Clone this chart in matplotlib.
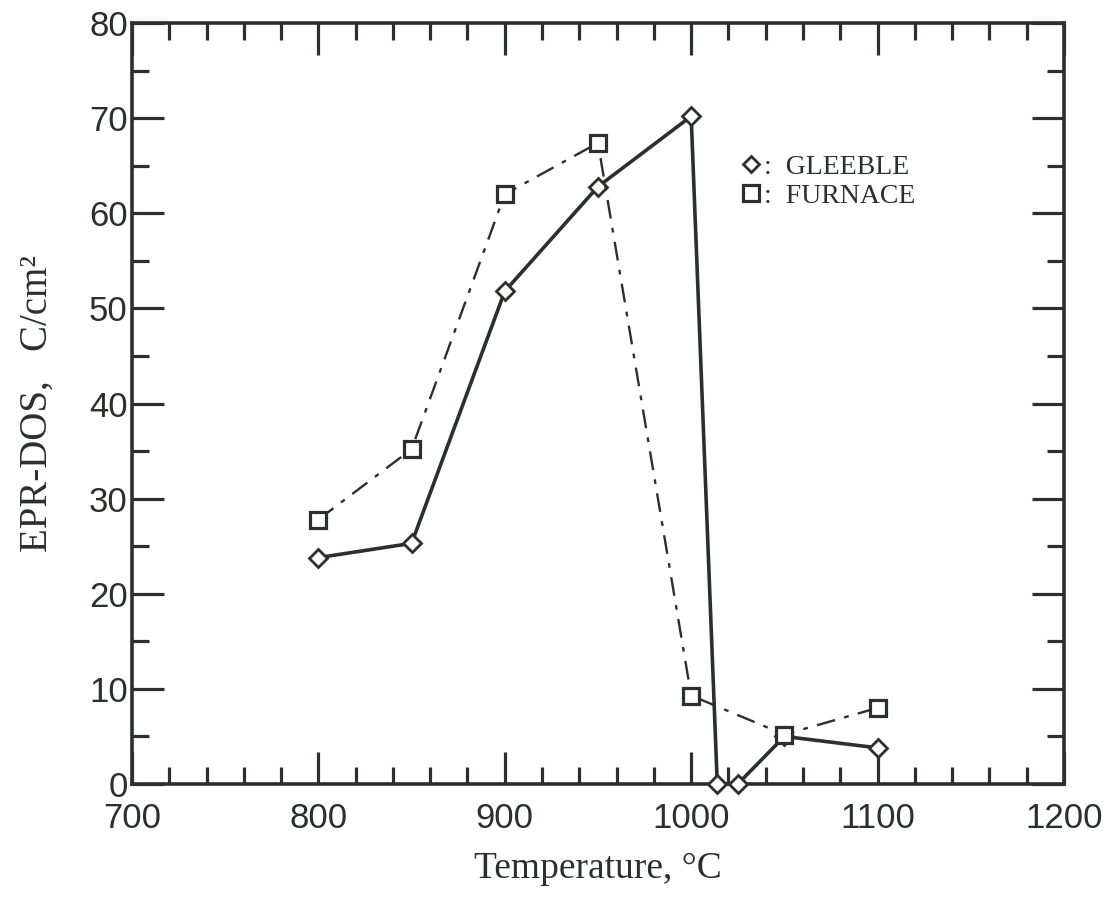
import matplotlib
matplotlib.use("Agg")
import matplotlib.pyplot as plt
from matplotlib.lines import Line2D
from matplotlib.ticker import MultipleLocator

INK = "#2b302c"

# data
gleeble_T = [800, 850, 900, 950, 1000, 1014, 1025, 1050, 1100]
gleeble_dos = [23.8, 25.3, 51.8, 62.8, 70.2, 0.0, 0.0, 5.0, 3.8]
furnace_T = [800, 850, 900, 950, 1000, 1050, 1100]
furnace_dos = [27.8, 35.2, 62.0, 67.4, 9.3, 5.2, 8.0]

fig = plt.figure(figsize=(11.09, 9.07), dpi=100)
ax = fig.add_axes([0.119, 0.1356, 0.8404, 0.839])

ax.plot(gleeble_T, gleeble_dos, color=INK, lw=2.6, marker="D", ms=9,
        mfc="white", mec=INK, mew=2.0, clip_on=False, zorder=3)
ax.plot(furnace_T, furnace_dos, color=INK, lw=1.7, dashes=(8, 4, 2, 4),
        marker="s", ms=12, mfc="white", mec=INK, mew=2.3, clip_on=False, zorder=4)

ax.set_xlim(700, 1200)
ax.set_ylim(0, 80)
ax.xaxis.set_major_locator(MultipleLocator(100))
ax.xaxis.set_minor_locator(MultipleLocator(20))
ax.yaxis.set_major_locator(MultipleLocator(10))
ax.yaxis.set_minor_locator(MultipleLocator(5))
ax.tick_params(which="both", direction="in", top=True, right=True,
               color=INK, width=2.3)
ax.tick_params(which="major", length=23, labelsize=25, labelcolor=INK)
ax.tick_params(which="minor", length=12)
ax.tick_params(axis="x", which="major", pad=13)
ax.tick_params(axis="y", which="major", pad=3)
for lab in ax.get_xticklabels() + ax.get_yticklabels():
    lab.set_family("Liberation Sans")
for s in ax.spines.values():
    s.set_linewidth(2.6)
    s.set_color(INK)

ax.set_xlabel("Temperature, \u00b0C", family="Liberation Serif", fontsize=27,
              color=INK, labelpad=12)
ax.set_ylabel("EPR-DOS,   C/cm\u00b2", family="Liberation Serif", fontsize=28,
              color=INK, labelpad=24)

handles = [
    Line2D([], [], ls="none", marker="D", ms=8, mfc="white", mec=INK, mew=2.0),
    Line2D([], [], ls="none", marker="s", ms=11, mfc="white", mec=INK, mew=2.3),
]
leg = ax.legend(handles, [":  GLEEBLE", ":  FURNACE"], loc="upper left",
                bbox_to_anchor=(0.625, 0.86), frameon=False, handlelength=0.8,
                handletextpad=0.1, labelspacing=0.12,
                prop={"family": "Liberation Serif", "size": 20})
for t in leg.get_texts():
    t.set_color(INK)

fig.savefig("out.png", dpi=100, facecolor="white")
